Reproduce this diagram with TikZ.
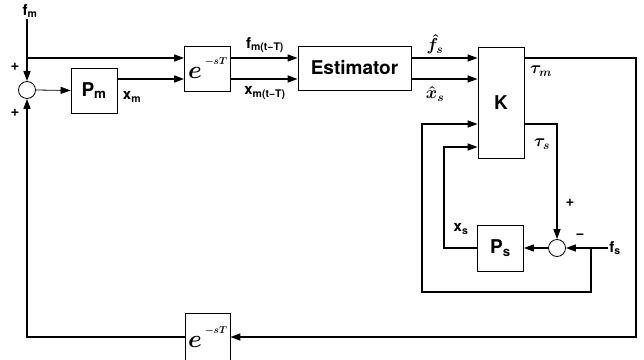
\documentclass[tikz,border=0pt]{standalone}
\usepackage{amsmath}
\usepackage{fontspec}
\setmainfont{TeX Gyre Heros}
\usepackage{tikz}
\usetikzlibrary{arrows.meta, positioning, calc}
\tikzset{
  blk/.style={draw, line width=0.8pt, inner sep=0pt, font=\bfseries\fontsize{19}{19}\selectfont},
  sumpt/.style={draw, circle, line width=0.8pt, minimum size=17pt, inner sep=0pt},
  sig/.style={line width=1.3pt, -{Triangle[length=10pt,width=7pt]}},
  lbl/.style={font=\bfseries\fontsize{15}{15}\selectfont, inner sep=1pt},
  mlbl/.style={font=\boldmath\fontsize{17}{17}\selectfont, inner sep=1pt},
}
\newcommand{\delaytxt}{{\boldmath\fontsize{32}{32}\selectfont$e$}\hspace{3pt}\raisebox{14pt}{\boldmath\fontsize{10}{10}\selectfont$-sT$}}

\begin{document}
\begin{tikzpicture}[x=1pt, y=-1pt]
        \useasboundingbox (0,0) rectangle (644,359);

        \coordinate (rowf) at (0,58);
        \coordinate (rowx) at (0,79);
        \coordinate (rowfs) at (0,124);
        \coordinate (rowxs) at (0,147);

        % blocchi master
        \node[sumpt] (sum1) at (27,90) {};
        \node[blk, minimum width=46pt, minimum height=45pt] (Pm) at (94,90.5) {P\textsubscript{m}};
        \node[blk, minimum width=46pt, minimum height=45pt] (dly1) at (207.5,68.5) {\delaytxt};
        \node[blk, minimum width=113pt, minimum height=44pt] (est) at (354.5,68) {Estimator};
        \node[blk, minimum width=46pt, minimum height=111pt] (K) at (501,102.5) {K};

        % blocchi slave
        \node[blk, minimum width=46pt, minimum height=46pt] (Ps) at (500.5,248) {P\textsubscript{s}};
        \node[sumpt] (sum2) at (557,248) {};
        \node[blk, minimum width=45pt, minimum height=48pt] (dly2) at (207.5,337) {\delaytxt};

        % etichette
        \node[lbl] (fmlab) at (30,11) {f\textsubscript{m}};
        \node[lbl] (fslab) at (615,248) {f\textsubscript{s}};
        \node[lbl] (xmlab) at (132,97) {x\textsubscript{m}};
        \node[lbl] (xslab) at (461,229) {x\textsubscript{s}};
        \node[lbl] (fmdlab) at (265,45) {f\textsubscript{m(t−T)}};
        \node[lbl] (xmdlab) at (265,93) {x\textsubscript{m(t−T)}};
        \node[lbl] (plus1) at (15,67) {+};
        \node[lbl] (plus2) at (15,113) {+};
        \node[lbl] (plus3) at (570,203) {+};
        \node[lbl] (minus1) at (580,236) {−};
        \node[mlbl] (fhlab) at (435,44) {$\hat{f}_s$};
        \node[mlbl] (xhlab) at (435,94) {$\hat{x}_s$};
        \node[mlbl] (tmlab) at (541,71) {$\tau_m$};
        \node[mlbl] (tslab) at (542,144) {$\tau_s$};

        % segnali master
        \draw[sig] (fmlab.south -| sum1) -- (sum1.north);
        \draw[sig] (sum1 |- rowf) -- (dly1.west |- rowf);
        \draw[sig, line width=0.8pt] (sum1.east) -- (Pm.west);
        \draw[sig] (Pm.east |- rowx) -- (dly1.west |- rowx);
        \draw[sig] (dly1.east |- rowf) -- (est.west |- rowf);
        \draw[sig] (dly1.east |- rowx) -- (est.west |- rowx);
        \draw[sig] (est.east |- rowf) -- (K.west |- rowf);
        \draw[sig] (est.east |- rowx) -- (K.west |- rowx);

        % ritorno tau_m
        \coordinate (rtc) at (636,337);
        \draw[sig] (K.east |- rowf) -| (rtc) -- (dly2.east);
        \draw[sig] (dly2.west) -| (sum1.south);

        % segnali slave
        \draw[sig] (K.east |- rowfs) -| (sum2.north);
        \draw[sig] (fslab.west) -- (sum2.east);
        \draw[sig] (sum2.west) -- (Ps.east);
        \coordinate (fsbr) at (591,248);
        \coordinate (lpc) at (422,292);
        \draw[sig] (fsbr) |- (lpc) |- (K.west |- rowfs);
        \coordinate (xsc) at (444,147);
        \draw[sig] (Ps.west) -| (xsc) -- (xsc -| K.west);
    \end{tikzpicture}
\end{document}
